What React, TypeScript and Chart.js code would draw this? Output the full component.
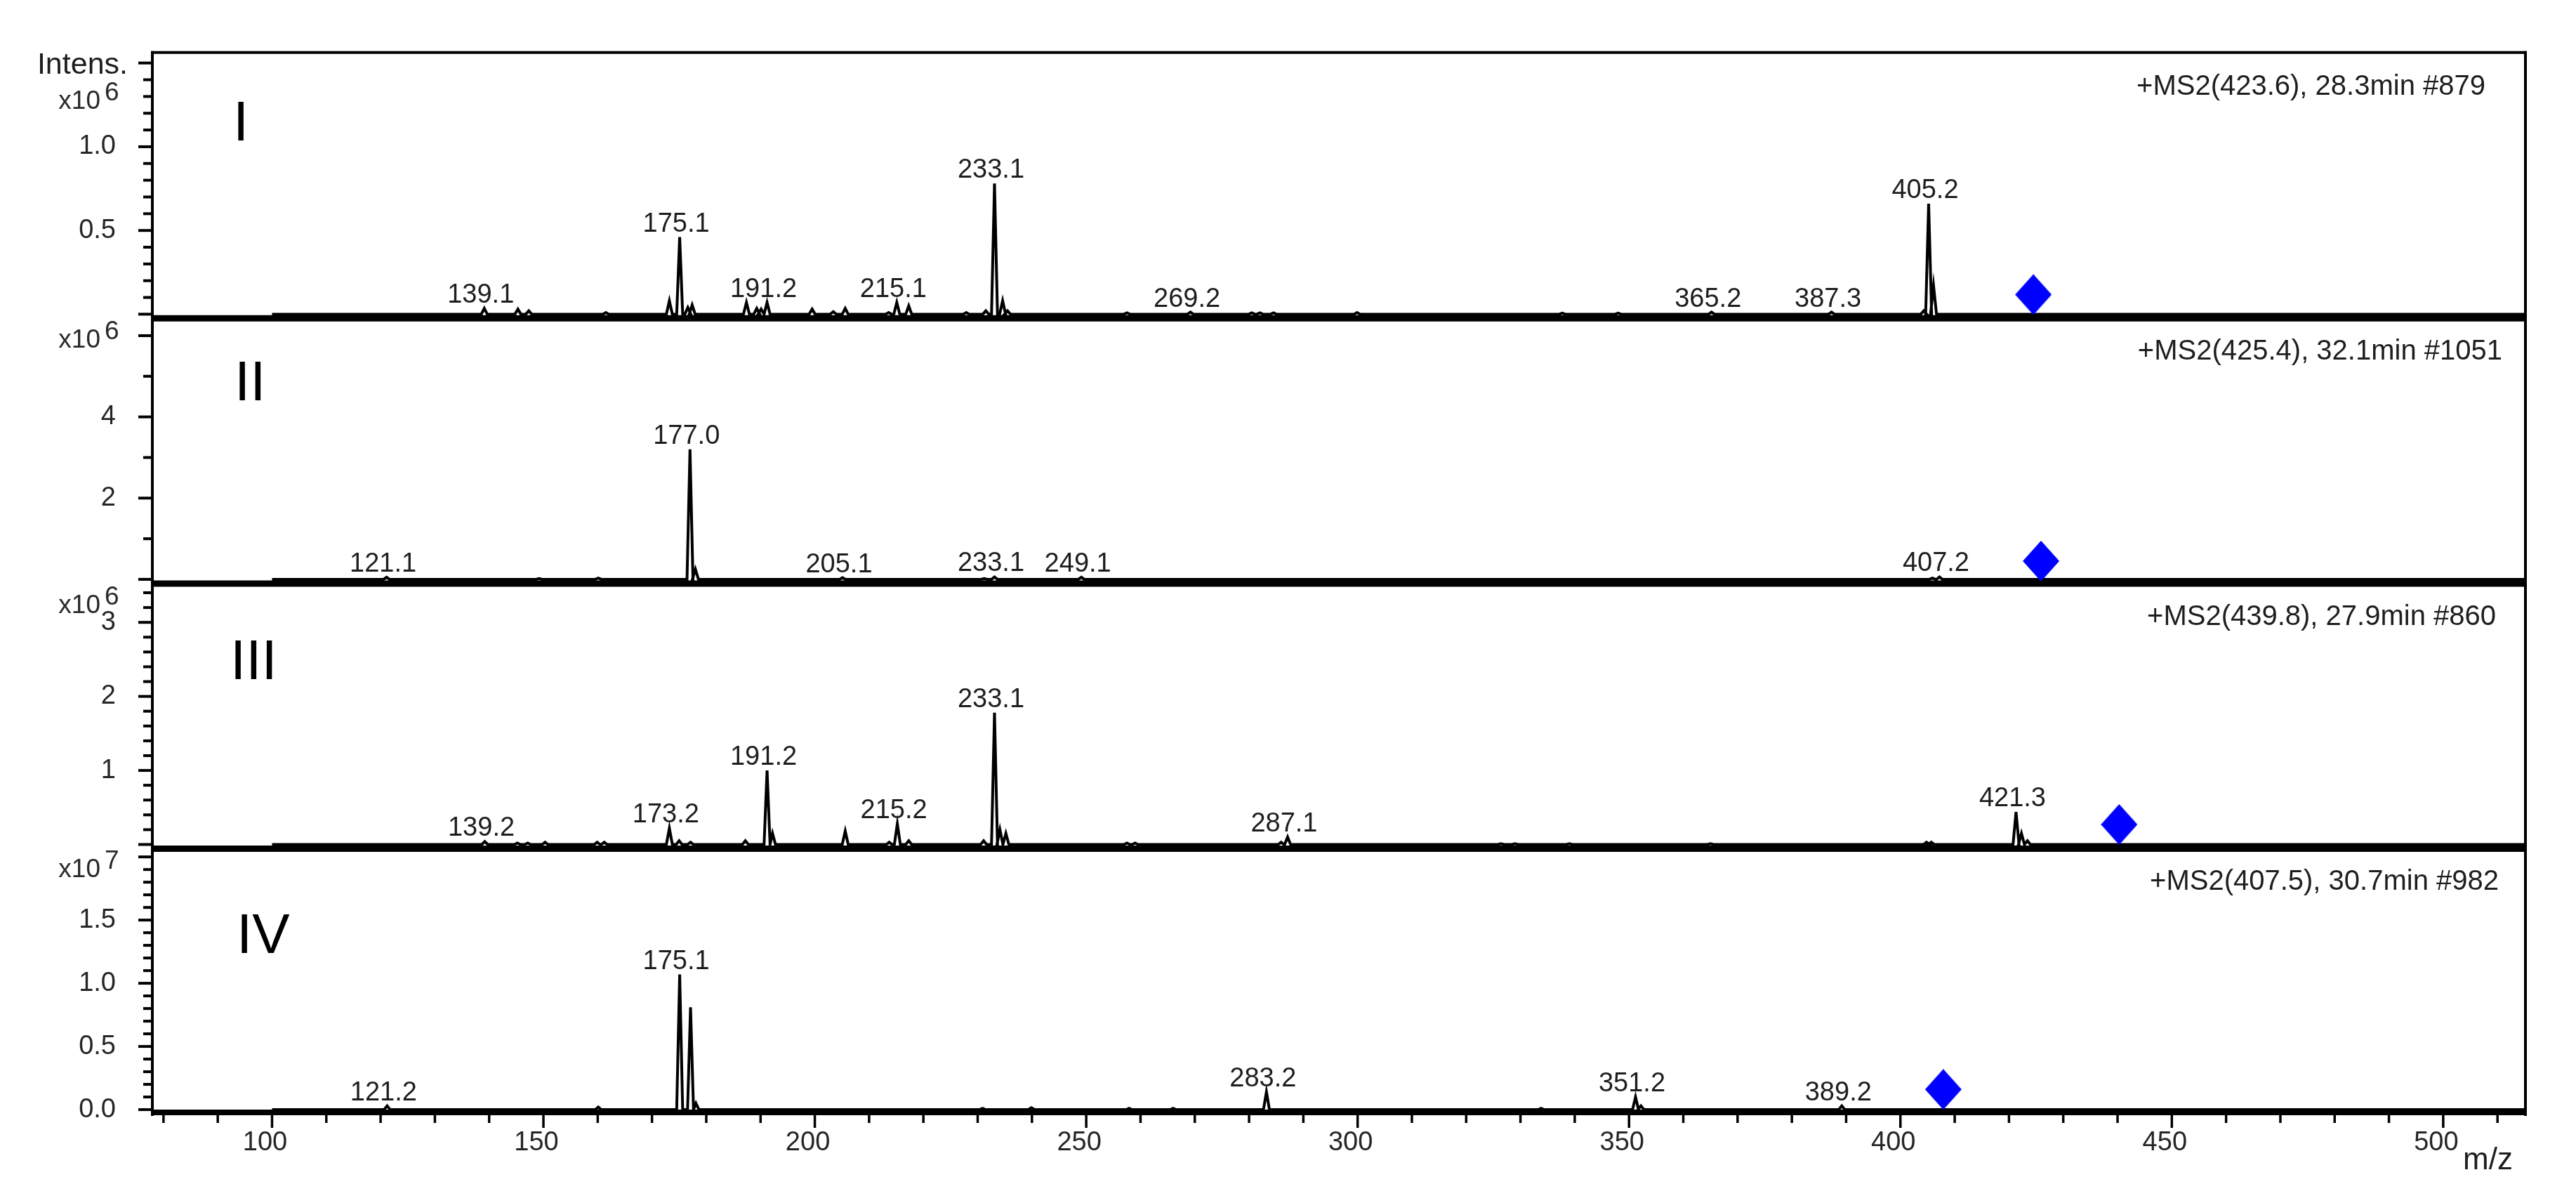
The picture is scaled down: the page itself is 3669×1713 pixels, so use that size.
import React, { useEffect, useRef } from 'react';
import { Chart, registerables } from 'chart.js';

Chart.register(...registerables);

const CANVAS_W = 3669;
const CANVAS_H = 1713;
const FONT = '"Liberation Sans", Arial, Helvetica, sans-serif';

// ---------------- data ----------------
// x axis (m/z)
const xRange = [77.95, 515.15];
const xTickValues = [100, 150, 200, 250, 300, 350, 400, 450, 500];
const xMinorStep = 10;
const xMinorStart = 80;
const xMinorEnd = 510;
const scanRange = [100, 515];

// panels
const panelIds = ['yI', 'yII', 'yIII', 'yIV'];
const panelNumerals = ['I', 'II', 'III', 'IV'];
const panelTitles = [
  '+MS2(423.6), 28.3min #879',
  '+MS2(425.4), 32.1min #1051',
  '+MS2(439.8), 27.9min #860',
  '+MS2(407.5), 30.7min #982',
];
const panelExponents = ['6', '6', '6', '7'];

// y axes (intensity in units of 10^exponent)
const yMin = [-0.0208, -0.0859, -0.0471, -0.0276];
const yMax = [1.5625, 6.443, 3.534, 2.0707];
const yTickLabelsI = [0.5, 1.0];
const yTickLabelsII = [2, 4];
const yTickLabelsIII = [1, 2, 3];
const yTickLabelsIV = [0.0, 0.5, 1.0, 1.5];
const yTickLabels = [yTickLabelsI, yTickLabelsII, yTickLabelsIII, yTickLabelsIV];
const yDecimals = [1, 0, 0, 1];
const yMinorStep = [0.1, 1, 0.2, 0.1];
const yMajorStep = [0.5, 2, 1, 0.5];
const yTickTop = [1.5, 6, 3.4, 2.0];

// Panel I peaks (x10^6)
const mzI = [139.1, 145.3, 147.3, 161.5, 173.2, 175.1, 176.6, 177.4, 187.4, 189.3, 190.1, 191.2, 199.5, 203.4, 205.6, 213.6, 215.1, 217.3, 227.9, 231.5, 233.1, 234.6, 235.5, 257.5, 269.2, 280.5, 282.0, 284.5, 299.9, 337.7, 348.0, 365.2, 387.3, 404.3, 405.2, 406.1];
const intI = [0.035, 0.03, 0.02, 0.01, 0.08, 0.46, 0.04, 0.055, 0.07, 0.035, 0.03, 0.07, 0.03, 0.015, 0.035, 0.01, 0.07, 0.05, 0.01, 0.02, 0.78, 0.08, 0.02, 0.008, 0.012, 0.008, 0.008, 0.008, 0.01, 0.006, 0.006, 0.012, 0.012, 0.02, 0.66, 0.17];
const labelsI = ['139.1', '175.1', '191.2', '215.1', '233.1', '269.2', '365.2', '387.3', '405.2'];

// Panel II peaks (x10^6)
const mzII = [121.1, 149.2, 160.1, 177.0, 178.0, 205.1, 231.2, 233.1, 249.1, 405.9, 407.2];
const intII = [0.05, 0.02, 0.03, 3.2, 0.25, 0.04, 0.02, 0.06, 0.05, 0.03, 0.06];
const labelsII = ['121.1', '177.0', '205.1', '233.1', '249.1', '407.2'];

// Panel III peaks (x10^6)
const mzIII = [139.2, 145.2, 147.1, 150.3, 159.9, 161.2, 173.2, 175.0, 177.1, 187.2, 191.2, 192.2, 205.6, 213.7, 215.2, 217.3, 231.1, 233.1, 234.1, 235.2, 257.5, 259.0, 285.9, 287.1, 326.4, 329.0, 339.0, 365.0, 404.8, 405.7, 421.3, 422.3, 423.4];
const intIII = [0.04, 0.02, 0.02, 0.03, 0.03, 0.03, 0.22, 0.05, 0.03, 0.05, 1.0, 0.15, 0.18, 0.03, 0.28, 0.05, 0.05, 1.78, 0.2, 0.15, 0.02, 0.02, 0.03, 0.1, 0.01, 0.01, 0.01, 0.01, 0.03, 0.03, 0.44, 0.15, 0.05];
const labelsIII = ['139.2', '173.2', '191.2', '215.2', '233.1', '287.1', '421.3'];

// Panel IV peaks (x10^7)
const mzIV = [121.2, 160.1, 175.1, 177.1, 178.1, 230.9, 239.9, 257.9, 266.0, 283.2, 333.8, 351.2, 352.2, 389.2];
const intIV = [0.03, 0.02, 1.07, 0.81, 0.05, 0.01, 0.015, 0.01, 0.01, 0.14, 0.01, 0.1, 0.03, 0.03];
const labelsIV = ['121.2', '175.1', '283.2', '351.2', '389.2'];

const peakMz = [mzI, mzII, mzIII, mzIV];
const peakInt = [intI, intII, intIII, intIV];
const peakLabels = [labelsI, labelsII, labelsIII, labelsIV];

// precursor markers (blue diamonds)
const precursorMz = [424.5, 425.9, 440.3, 407.9];
const precursorMarkY = [0.117, 0.45, 0.27, 0.16];

// ---------------- layout / style ----------------
const LAYOUT = {
  padTop: 65,
  padRight: 72,
  yAxisWidth: 217,
  xAxisHeight: 128,
  peakHalfWidth: 0.55,
  titleRight: [3540, 3564, 3555, 3559],
  titleBaseline: 60,
  numeralX: [332, 334, 328, 337],
  numeralBaseline: [125, 118, 137, 150],
  expRight: 143,
  expBaseline: [80, 43, 43, 42],
  intensRight: 182,
  intensBaselineFromTop: 30,
  mzLabelX: 3508,
  mzLabelBaseline: 1665,
};

function buildProfile(mz: number[], inten: number[]) {
  const hw = LAYOUT.peakHalfWidth;
  const pts: { x: number; y: number }[] = [{ x: scanRange[0], y: 0 }];
  mz.forEach((m, i) => {
    pts.push({ x: m - hw, y: 0 }, { x: m, y: inten[i] }, { x: m + hw, y: 0 });
  });
  pts.push({ x: scanRange[1], y: 0 });
  return pts;
}

function makeDiamond(): HTMLCanvasElement {
  const c = document.createElement('canvas');
  c.width = 52;
  c.height = 58;
  const g = c.getContext('2d')!;
  g.fillStyle = '#0000FF';
  g.beginPath();
  g.moveTo(26, 0);
  g.lineTo(52, 29);
  g.lineTo(26, 58);
  g.lineTo(0, 29);
  g.closePath();
  g.fill();
  return c;
}

const decorPlugin = {
  id: 'msDecor',
  afterDatasetsDraw(chart: any) {
    const ctx: CanvasRenderingContext2D = chart.ctx;
    const ca = chart.chartArea;
    const xs = chart.scales.x;
    ctx.save();
    ctx.strokeStyle = '#000';
    ctx.fillStyle = '#1e1e1e';
    ctx.lineCap = 'butt';

    const line = (x1: number, y1: number, x2: number, y2: number, w: number) => {
      ctx.lineWidth = w;
      ctx.beginPath();
      ctx.moveTo(x1, y1);
      ctx.lineTo(x2, y2);
      ctx.stroke();
    };

    // peak labels
    ctx.font = `38px ${FONT}`;
    ctx.textAlign = 'center';
    ctx.textBaseline = 'alphabetic';
    panelIds.forEach((id, p) => {
      const ys = chart.scales[id];
      peakLabels[p].forEach((lab) => {
        const m = parseFloat(lab);
        const idx = peakMz[p].findIndex((v) => Math.abs(v - m) < 1e-6);
        const h = idx >= 0 ? peakInt[p][idx] : 0;
        const px = xs.getPixelForValue(m) - 5;
        const py = ys.getPixelForValue(h) - 8;
        ctx.fillText(lab, px, py);
      });
    });

    // frame
    line(ca.left - 2, ca.top, ca.right + 2, ca.top, 4);
    line(ca.left, ca.top - 2, ca.left, ca.bottom + 4, 4);
    line(ca.right, ca.top - 2, ca.right, ca.bottom + 4, 4);
    panelIds.forEach((id, p) => {
      const ys = chart.scales[id];
      if (p < panelIds.length - 1) {
        line(ca.left, ys.bottom + 1, ca.right + 2, ys.bottom + 1, 9);
      }
    });
    line(ca.left - 2, ca.bottom - 1, ca.right + 2, ca.bottom - 1, 8);

    // y tick marks
    panelIds.forEach((id, p) => {
      const ys = chart.scales[id];
      const step = yMinorStep[p];
      for (let k = 0; k * step <= yTickTop[p] + 1e-9; k++) {
        const v = k * step;
        const r = v / yMajorStep[p];
        const major = Math.abs(r - Math.round(r)) < 1e-6;
        const y = ys.getPixelForValue(v);
        line(ca.left - (major ? 20 : 13), y, ca.left, y, 4);
      }
    });

    // x tick marks
    for (let v = xMinorStart; v <= xMinorEnd + 1e-9; v += xMinorStep) {
      const major = v % 50 === 0;
      const x = xs.getPixelForValue(v);
      line(x, ca.bottom + 2, x, ca.bottom + (major ? 21 : 14), 3.5);
    }

    // panel titles, numerals, exponent labels
    panelIds.forEach((id, p) => {
      const ys = chart.scales[id];
      ctx.fillStyle = '#1e1e1e';
      ctx.font = `40px ${FONT}`;
      ctx.textAlign = 'right';
      ctx.fillText(panelTitles[p], LAYOUT.titleRight[p], ys.top + LAYOUT.titleBaseline);

      ctx.fillStyle = '#000';
      ctx.font = `80px ${FONT}`;
      ctx.textAlign = 'left';
      ctx.fillText(panelNumerals[p], LAYOUT.numeralX[p], ys.top + LAYOUT.numeralBaseline[p]);

      ctx.fillStyle = '#2a2a2a';
      ctx.font = `37px ${FONT}`;
      ctx.textAlign = 'right';
      const eb = ys.top + LAYOUT.expBaseline[p];
      ctx.fillText('x10', LAYOUT.expRight, eb);
      ctx.textAlign = 'left';
      ctx.fillText(panelExponents[p], LAYOUT.expRight + 6, eb - 12);
    });

    // Intens. label
    ctx.fillStyle = '#1e1e1e';
    ctx.font = `43px ${FONT}`;
    ctx.textAlign = 'right';
    ctx.fillText('Intens.', LAYOUT.intensRight, ca.top + LAYOUT.intensBaselineFromTop);

    // m/z label
    ctx.font = `44px ${FONT}`;
    ctx.textAlign = 'left';
    ctx.fillText('m/z', LAYOUT.mzLabelX, LAYOUT.mzLabelBaseline);

    ctx.restore();
  },
};

export default function App() {
  const canvasRef = useRef<HTMLCanvasElement | null>(null);

  useEffect(() => {
    document.body.style.margin = '0';
    document.body.style.overflow = 'hidden';
    const canvas = canvasRef.current;
    if (!canvas) return;
    const diamond = makeDiamond();

    const datasets: any[] = [];
    panelIds.forEach((id, p) => {
      datasets.push({
        label: panelTitles[p],
        data: buildProfile(peakMz[p], peakInt[p]),
        yAxisID: id,
        xAxisID: 'x',
        borderColor: '#000',
        borderWidth: 4,
        borderJoinStyle: 'miter',
        pointRadius: 0,
        tension: 0,
        fill: false,
        order: 2,
      });
      datasets.push({
        label: 'precursor ' + panelTitles[p],
        data: [{ x: precursorMz[p], y: precursorMarkY[p] }],
        yAxisID: id,
        xAxisID: 'x',
        showLine: false,
        pointStyle: diamond,
        pointRadius: 29,
        order: 1,
      });
    });

    const scales: any = {
      x: {
        type: 'linear',
        position: 'bottom',
        min: xRange[0],
        max: xRange[1],
        grid: { display: false, drawTicks: false },
        border: { display: false },
        afterBuildTicks: (s: any) => {
          s.ticks = xTickValues.map((v) => ({ value: v }));
        },
        afterFit: (s: any) => {
          s.height = LAYOUT.xAxisHeight;
        },
        ticks: {
          autoSkip: false,
          maxRotation: 0,
          minRotation: 0,
          padding: 20,
          labelOffset: -10,
          color: '#262626',
          font: { family: FONT, size: 38 },
          callback: (v: any) => String(v),
        },
      },
    };
    panelIds.forEach((id, p) => {
      scales[id] = {
        type: 'linear',
        position: 'left',
        stack: 'ms',
        stackWeight: 1,
        weight: panelIds.length - p,
        min: yMin[p],
        max: yMax[p],
        grid: { display: false, drawTicks: false },
        border: { display: false },
        afterBuildTicks: (s: any) => {
          s.ticks = yTickLabels[p].map((v) => ({ value: v }));
        },
        afterFit: (s: any) => {
          s.width = LAYOUT.yAxisWidth;
        },
        ticks: {
          autoSkip: false,
          padding: 52,
          color: '#262626',
          font: { family: FONT, size: 38 },
          callback: (v: any) => Number(v).toFixed(yDecimals[p]),
        },
      };
    });

    const chart = new Chart(canvas, {
      type: 'line',
      data: { datasets },
      options: {
        responsive: false,
        animation: false,
        devicePixelRatio: 1,
        layout: { padding: { top: LAYOUT.padTop, right: LAYOUT.padRight, left: 0, bottom: 0 } },
        plugins: { legend: { display: false }, tooltip: { enabled: false } },
        events: [],
        scales,
      },
      plugins: [decorPlugin],
    } as any);

    return () => {
      chart.destroy();
    };
  }, []);

  return (
    <div style={{ width: CANVAS_W, height: CANVAS_H, background: '#fff' }}>
      <canvas ref={canvasRef} width={CANVAS_W} height={CANVAS_H} style={{ display: 'block' }} />
    </div>
  );
}
